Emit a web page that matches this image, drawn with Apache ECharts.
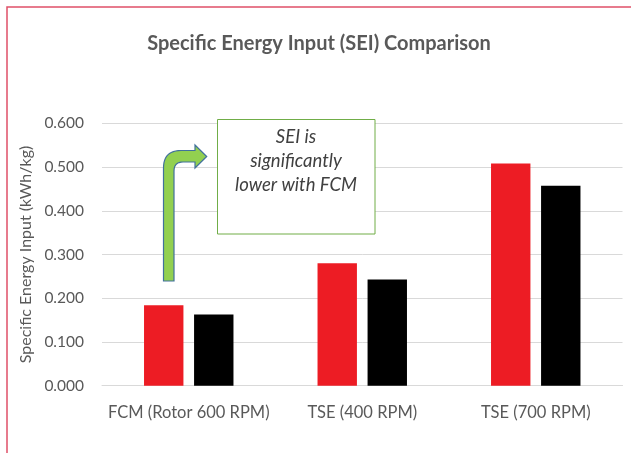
<!DOCTYPE html>
<html>
<head>
<meta charset="utf-8">
<script src="https://cdn.jsdelivr.net/npm/echarts@6/dist/echarts.min.js"></script>
<style>
html,body{margin:0;padding:0;background:#fff;}
#chart{width:631px;height:453px;}
</style>
</head>
<body>
<div id="chart"></div>
<script>
var titleText = 'Specific Energy Input (SEI) Comparison';
var yAxisName = 'Specific Energy Input (kWh/kg)';
var categories = ['FCM (Rotor 600 RPM)', 'TSE (400 RPM)', 'TSE (700 RPM)'];
var redValues = [0.184, 0.280, 0.508];
var blackValues = [0.163, 0.243, 0.457];
var yTicks = [0, 0.1, 0.2, 0.3, 0.4, 0.5, 0.6];
var noteLines = ['SEI is', 'significantly', 'lower with FCM'];

var FONT = 'Lato';

function quad(p0, p1, p2, n) {
  var pts = [];
  for (var i = 0; i <= n; i++) {
    var t = i / n, u = 1 - t;
    pts.push([u*u*p0[0] + 2*u*t*p1[0] + t*t*p2[0], u*u*p0[1] + 2*u*t*p1[1] + t*t*p2[1]]);
  }
  return pts;
}
var arrowPts = [[163.5, 281]]
  .concat(quad([163.5, 168], [163.5, 150.5], [181, 150.5], 12))
  .concat([[195, 150.5], [195, 145], [206.7, 156.5], [195, 168], [195, 162]])
  .concat(quad([183, 162], [174, 162], [174, 171], 8))
  .concat([[174, 281]]);

var chart = echarts.init(document.getElementById('chart'), null, {renderer: 'canvas'});
var option = {
  backgroundColor: '#ffffff',
  animation: false,
  title: {
    text: titleText,
    left: 314, top: 29,
    textAlign: 'center',
    textStyle: {fontFamily: FONT, fontSize: 20, fontWeight: 'bold', color: '#595959'}
  },
  grid: {left: 102, right: 8.5, top: 123.3, bottom: 67.3, containLabel: false},
  xAxis: {
    type: 'category',
    data: categories,
    axisLine: {show: true, lineStyle: {color: '#d9d9d9', width: 1}},
    axisTick: {show: false},
    axisLabel: {interval: 0, fontFamily: FONT, fontSize: 16.5, color: '#595959', margin: 18}
  },
  yAxis: {
    type: 'value',
    min: yTicks[0], max: yTicks[yTicks.length - 1], interval: 0.1,
    name: yAxisName,
    nameLocation: 'middle',
    nameRotate: 90,
    nameGap: 58,
    nameTextStyle: {fontFamily: FONT, fontSize: 16, color: '#595959'},
    axisLine: {show: false},
    axisTick: {show: false},
    splitLine: {lineStyle: {color: '#d9d9d9', width: 1}},
    axisLabel: {fontFamily: FONT, fontSize: 15.5, color: '#595959', margin: 18,
      formatter: function (v) { return v.toFixed(3); }}
  },
  series: [
    {name: 'Red', type: 'bar', data: redValues, barWidth: 39.4, barGap: '27%',
     itemStyle: {color: '#ed1c24'}},
    {name: 'Black', type: 'bar', data: blackValues, barWidth: 39.4, barGap: '27%',
     itemStyle: {color: '#000000'}}
  ],
  graphic: [
    {type: 'rect', shape: {x: 7, y: 7, width: 800, height: 600}, z: 100,
     style: {fill: 'none', stroke: '#e05068', lineWidth: 1.5}},
    {type: 'rect', shape: {x: 217.5, y: 119.5, width: 157.5, height: 114.5}, z: 50,
     style: {fill: '#ffffff', stroke: '#70ad47', lineWidth: 1}},
    {type: 'text', x: 296, y: 137, z: 51,
     style: {text: noteLines[0], fontFamily: FONT, fontStyle: 'italic', fontSize: 18.5,
       fill: '#404040', textAlign: 'center', textVerticalAlign: 'middle'}},
    {type: 'text', x: 296, y: 161.5, z: 51,
     style: {text: noteLines[1], fontFamily: FONT, fontStyle: 'italic', fontSize: 18.5,
       fill: '#404040', textAlign: 'center', textVerticalAlign: 'middle'}},
    {type: 'text', x: 296, y: 185.5, z: 51,
     style: {text: noteLines[2], fontFamily: FONT, fontStyle: 'italic', fontSize: 18.5,
       fill: '#404040', textAlign: 'center', textVerticalAlign: 'middle'}},
    {type: 'polygon', z: 52,
     shape: {points: arrowPts},
     style: {fill: '#92d050', stroke: '#41719c', lineWidth: 1.2}}
  ]
};
chart.setOption(option);
</script>
</body>
</html>
